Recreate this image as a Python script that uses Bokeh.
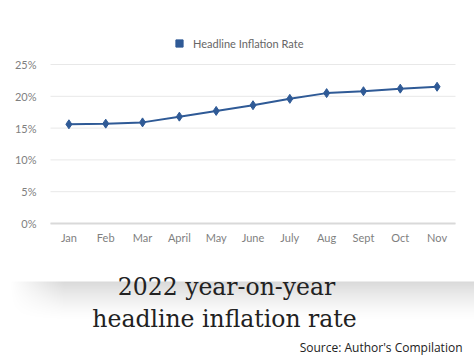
import numpy as np
from bokeh.plotting import figure
from bokeh.models import (Range1d, Legend, LegendItem, ColumnDataSource, LinearAxis,
                          FixedTicker, CustomJSTickFormatter)
from bokeh.core.properties import value
from bokeh.embed import file_html
from bokeh.resources import INLINE

months = ["Jan", "Feb", "Mar", "April", "May", "June", "July", "Aug", "Sept", "Oct", "Nov"]
inflation = [15.6, 15.7, 15.9, 16.8, 17.7, 18.6, 19.6, 20.5, 20.8, 21.2, 21.5]
y_ticks = [0, 5, 10, 15, 20, 25]
series_name = "Headline Inflation Rate"
title_lines = ["2022 year-on-year", "headline inflation rate"]
source_note = "Source: Author's Compilation"

BLUE = "#2f5a96"
TICK = "#7f7f7f"
FONT = "Lato"

x_idx = list(range(len(months)))
n = len(months)

# canvas geometry (pixels): plot area 50..455 wide, 25% at 64 px, 0% at 223 px
W, H = 474, 355
ux = (455 - 50) / n
x0 = -(50 + ux / 2) / ux
uy = (223 - 64) / 25
y0 = -(H - 223) / uy

p = figure(width=W, height=H, x_range=Range1d(x0, x0 + W / ux), y_range=Range1d(y0, y0 + H / uy),
           output_backend="svg", toolbar_location=None,
           x_axis_location=None, y_axis_location=None,
           min_border=0, min_border_left=0, min_border_right=0, min_border_top=0, min_border_bottom=0)
p.outline_line_color = None
p.background_fill_color = "white"
p.border_fill_color = "white"
p.grid.visible = False
p.extra_x_ranges = {"px": Range1d(0, W)}
p.extra_y_ranges = {"px": Range1d(H, 0)}

# decorative shaded band behind the title
BH = 42
yy = np.linspace(0, 1, BH)[:, None]
xx = np.arange(W)[None, :]
alpha_v = (1 - yy) ** 1.5
alpha_h = np.clip((xx - 8) / 55.0, 0, 1)
alpha = (alpha_v * alpha_h * 0.15 * 255).astype(np.uint32)
img = np.zeros((BH, W), dtype=np.uint32)
view = img.view(dtype=np.uint8).reshape((BH, W, 4))
view[:, :, 3] = alpha
p.image_rgba(image=[img], x=0, y=281, dw=W, dh=BH, x_range_name="px", y_range_name="px")

# horizontal gridlines across the plot area
p.segment(x0=[-0.5] * len(y_ticks), x1=[n - 0.5] * len(y_ticks), y0=y_ticks, y1=y_ticks,
          line_color="#e8e8e8", line_width=1)

src = ColumnDataSource(dict(x=x_idx, v=inflation))
p.line("x", "v", source=src, line_color=BLUE, line_width=2)
p.scatter("x", "v", source=src, marker="diamond", size=9, fill_color=BLUE, line_color=BLUE)
leg_r = p.scatter("x", "v", source=src, marker="square", fill_color=BLUE, line_color=BLUE)
leg_r.visible = False

yaxis = LinearAxis(fixed_location=-0.5, bounds=(0, 25), ticker=FixedTicker(ticks=y_ticks),
                   formatter=CustomJSTickFormatter(code="return tick + '%';"))
yaxis.axis_line_color = None
yaxis.major_tick_line_color = None
yaxis.minor_tick_line_color = None
yaxis.major_label_standoff = 8
yaxis.major_label_text_color = TICK
yaxis.major_label_text_font = FONT
yaxis.major_label_text_font_size = "11px"
p.add_layout(yaxis, "left")

xaxis = LinearAxis(fixed_location=0, bounds=(-0.5, n - 0.5), ticker=FixedTicker(ticks=x_idx),
                   major_label_overrides={i: m for i, m in zip(x_idx, months)})
xaxis.axis_line_color = "#d9d9d9"
xaxis.axis_line_width = 2
xaxis.major_tick_line_color = None
xaxis.minor_tick_line_color = None
xaxis.major_label_standoff = 1
xaxis.major_label_text_color = TICK
xaxis.major_label_text_font = FONT
xaxis.major_label_text_font_size = "11px"
p.add_layout(xaxis, "below")

legend = Legend(items=[LegendItem(label=series_name, renderers=[leg_r])],
                location=(170, H - 52), orientation="horizontal",
                border_line_color=None, background_fill_alpha=0,
                inactive_fill_alpha=0,
                padding=0, margin=0, glyph_width=18, glyph_height=18, label_height=18,
                label_standoff=5, label_text_color="#666666",
                label_text_font=FONT, label_text_font_size="11px")
p.add_layout(legend, "center")

p.text(x=[226], y=[286], text=[title_lines[0]], text_align="center", text_baseline="alphabetic",
       text_font=value("DejaVu Serif"), text_font_size="23.5px", text_color="#222222",
       x_range_name="px", y_range_name="px")
p.text(x=[224], y=[318], text=[title_lines[1]], text_align="center", text_baseline="alphabetic",
       text_font=value("DejaVu Serif"), text_font_size="23.5px", text_color="#222222",
       x_range_name="px", y_range_name="px")
p.text(x=[462], y=[347], text=[source_note], text_align="right", text_baseline="middle",
       text_font=value("Open Sans"), text_font_size="12px", text_color="#222222",
       x_range_name="px", y_range_name="px")

open("out.html", "w").write(file_html(p, INLINE))
